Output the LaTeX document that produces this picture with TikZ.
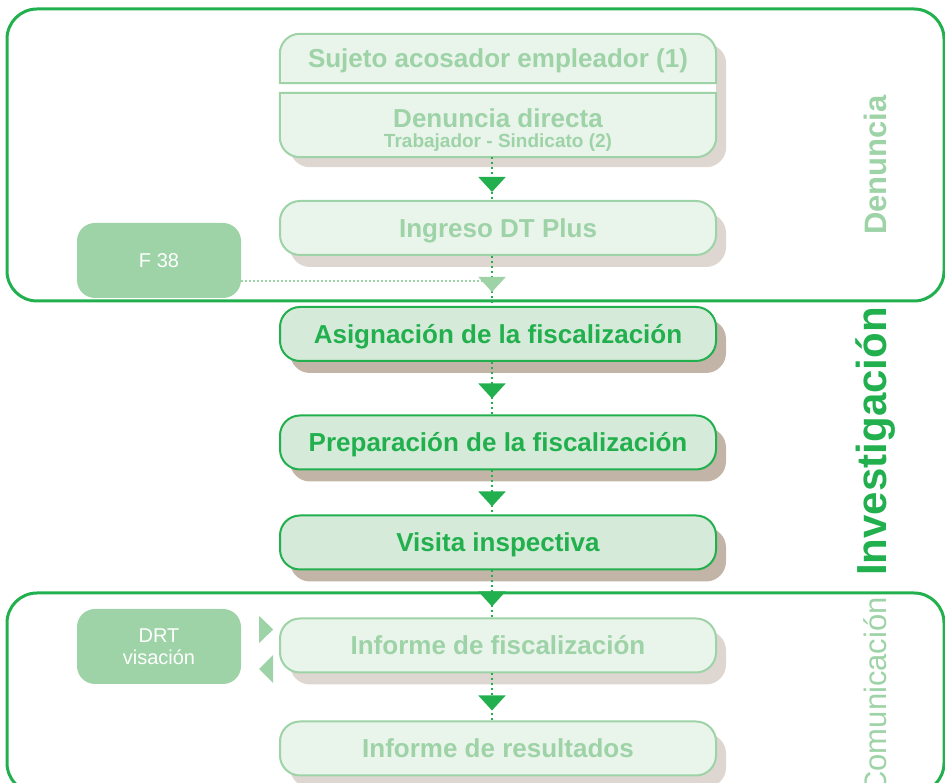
\documentclass[tikz,border=0pt]{standalone}
\usepackage{fontspec}
\setmainfont{Liberation Sans}
\usetikzlibrary{arrows.meta,shadows,backgrounds,calc}

\definecolor{dtgreen}{RGB}{34,176,78}
\definecolor{palegreen}{RGB}{157,211,166}
\definecolor{lightfill}{RGB}{233,244,235}
\definecolor{darkfill}{RGB}{213,234,216}
\definecolor{shadelight}{RGB}{222,215,209}
\definecolor{shadedark}{RGB}{194,181,168}

\begin{document}
\begin{tikzpicture}[x=1pt, y=1pt,
    stage/.style={minimum width=436pt, minimum height=54pt, inner sep=0pt, rounded corners=20pt,
                  text height=18.6pt, text depth=0pt, font=\fontsize{26}{30}\selectfont\bfseries},
    lightstage/.style={stage, draw=palegreen, line width=2pt, fill=lightfill, text=palegreen,
                  drop shadow={shadow xshift=10pt, shadow yshift=-12pt, fill=shadelight, opacity=1}},
    darkstage/.style={stage, draw=dtgreen, line width=2pt, fill=darkfill, text=dtgreen,
                  drop shadow={shadow xshift=10pt, shadow yshift=-12pt, fill=shadedark, opacity=1}},
    sidebox/.style={minimum width=164pt, minimum height=75pt, inner sep=0pt, rounded corners=18pt,
                  fill=palegreen, text=white, align=center, font=\fontsize{20}{22}\selectfont},
    frame/.style={draw=dtgreen, line width=3pt, rounded corners=30pt},
    link/.style={dtgreen, line width=2pt, dash pattern=on 2pt off 3pt},
    palelink/.style={palegreen, line width=1.5pt, dash pattern=on 2pt off 2pt},
    flowtip/.style={link, -{Triangle[width=27pt, length=15pt]}, shorten >=#1},
    paletip/.style={link, -{Triangle[width=27pt, length=15pt, color=palegreen]}, shorten >=#1},
    sidelabel/.style={rotate=90, inner sep=0pt, text=palegreen, font=\fontsize{31}{31}\selectfont\bfseries}
  ]
  \useasboundingbox (0,0) rectangle (945,783);

  % Frames of the stages
  \draw[frame] (7,482) rectangle (944,774);
  \draw[frame] (7,-10) rectangle (944,190);

  % Denuncia
  \node[stage, minimum height=49pt, text=palegreen] (sujeto) at (498,724.5) {Sujeto acosador empleador (1)};
  \node[stage, minimum height=64pt, text=palegreen, align=center, text height=46pt, text depth=0pt,
        font=\fontsize{19}{20}\selectfont\bfseries] (denuncia) at (498,658)
        {{\fontsize{26}{20}\selectfont Denuncia directa}\\Trabajador - Sindicato (2)};
  \begin{scope}[on background layer]
    \fill[shadelight, rounded corners=20pt] ([shift={(10,-10)}]sujeto.north west) rectangle ([shift={(10,-10)}]denuncia.south east);
    \fill[white] (sujeto.south west) rectangle (denuncia.north east);
    \filldraw[draw=palegreen, fill=lightfill, line width=2pt] (sujeto.south west) -- ([yshift=-20pt]sujeto.north west)
      arc[start angle=180, end angle=90, radius=20pt] -- ([xshift=-20pt]sujeto.north east)
      arc[start angle=90, end angle=0, radius=20pt] -- (sujeto.south east) -- cycle;
    \filldraw[draw=palegreen, fill=lightfill, line width=2pt] (denuncia.north west) -- (denuncia.north east)
      -- ([yshift=20pt]denuncia.south east) arc[start angle=0, end angle=-90, radius=20pt]
      -- ([xshift=20pt]denuncia.south west) arc[start angle=270, end angle=180, radius=20pt] -- cycle;
  \end{scope}
  \node[lightstage] (ingreso) at (498,555) {Ingreso DT Plus};
  \node[sidebox] (f38) at (159,522.5) {F 38};
  \node[sidelabel] (lbldenuncia) at (875,618) {Denuncia};

  % Investigacion
  \node[darkstage] (asignacion) at (498,449) {Asignación de la fiscalización};
  \node[darkstage] (preparacion) at (498,340.5) {Preparación de la fiscalización};
  \node[darkstage] (visita) at (498,240.5) {Visita inspectiva};
  \node[sidelabel, text=dtgreen, font=\fontsize{42}{42}\selectfont\bfseries] (lblinvestigacion) at (876,341.5) {Investigación};

  % Comunicacion
  \node[lightstage] (informe) at (498,137.5) {Informe de fiscalización};
  \node[lightstage] (resultados) at (498,34.5) {Informe de resultados};
  \node[sidebox] (drt) at (159,136.5) {DRT\\visación};
  \node[sidelabel, anchor=east, font=\fontsize{31}{31}\selectfont] (lblcomunicacion) at (875,186) {Comunicación};

  % Flow
  \coordinate (axis) at (492,0);
  \coordinate (f38out) at ([yshift=-20.5pt]f38.east);
  \draw[link] (denuncia.south -| axis) -- (ingreso.north -| axis);
  \draw[flowtip=8pt] (denuncia.south -| axis) -- (ingreso.north -| axis);
  \draw[palelink] (f38out) -- (f38out -| axis);
  \draw[link] (ingreso.south -| axis) -- (asignacion.north -| axis);
  \draw[paletip=14pt] (ingreso.south -| axis) -- (asignacion.north -| axis);
  \draw[link] (asignacion.south -| axis) -- (preparacion.north -| axis);
  \draw[flowtip=16pt] (asignacion.south -| axis) -- (preparacion.north -| axis);
  \draw[link] (preparacion.south -| axis) -- (visita.north -| axis);
  \draw[flowtip=8pt] (preparacion.south -| axis) -- (visita.north -| axis);
  \draw[link] (visita.south -| axis) -- (informe.north -| axis);
  \draw[flowtip=11pt] (visita.south -| axis) -- (informe.north -| axis);
  \draw[link] (informe.south -| axis) -- (resultados.north -| axis);
  \draw[flowtip=10pt] (informe.south -| axis) -- (resultados.north -| axis);

  % Visacion DRT
  \fill[palegreen] ($(drt.east)+(18,30.5)$) -- ++(14,-13.5) -- ++(-14,-13.5) -- cycle;
  \fill[palegreen] ($(drt.east)+(32,-8.5)$) -- ++(-14,-14) -- ++(14,-14) -- cycle;
\end{tikzpicture}
\end{document}
